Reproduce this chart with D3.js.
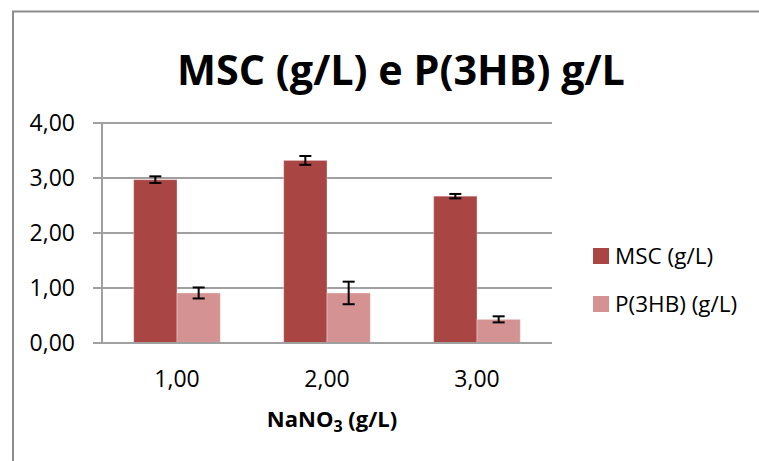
<!DOCTYPE html>
<html><head><meta charset="utf-8">
<script src="https://cdn.jsdelivr.net/npm/d3@7/dist/d3.min.js"></script>
<style>body{margin:0;background:#fff;} svg{display:block;}</style>
</head><body>
<svg id="c" width="759" height="461"></svg>
<script>
const categories = ["1,00", "2,00", "3,00"];
const seriesNames = ["MSC (g/L)", "P(3HB) (g/L)"];
const mscValues = [2.97, 3.32, 2.67];
const mscErrors = [0.06, 0.08, 0.04];
const p3hbValues = [0.91, 0.91, 0.43];
const p3hbErrors = [0.10, 0.205, 0.055];
const yTicks = [0, 1, 2, 3, 4];
const colors = ["#A94644", "#D49392"];

const svg = d3.select("#c");
const font = "'Open Sans', sans-serif";
const m = {left: 102, right: 552, top: 123, bottom: 343};

// frame
svg.append("path").attr("d", "M13,461 L13,11.5 L759,11.5")
  .attr("fill", "none").attr("stroke", "#8c8c8c").attr("stroke-width", 2);

const x0 = d3.scaleBand().domain(categories).range([m.left, m.right]).padding(0);
const x1 = d3.scaleBand().domain(seriesNames).range([0, x0.bandwidth()]).paddingInner(0).paddingOuter(0.731);
const y = d3.scaleLinear().domain([0, 4]).range([m.bottom, m.top]);

// gridlines
svg.append("g").selectAll("line").data(yTicks).join("line")
  .attr("x1", m.left - 9).attr("x2", m.right)
  .attr("y1", d => y(d)).attr("y2", d => y(d))
  .attr("stroke", "#a0a0a0").attr("stroke-width", 2);

// y axis line
svg.append("line").attr("x1", m.left).attr("x2", m.left)
  .attr("y1", y(4)).attr("y2", y(0)).attr("stroke", "#a0a0a0").attr("stroke-width", 2);

// y labels
svg.append("g").selectAll("text").data(yTicks).join("text")
  .attr("x", 75).attr("y", d => y(d)).attr("dy", "0.36em")
  .attr("text-anchor", "end").attr("font-family", font).attr("font-size", 23)
  .attr("fill", "#000").text(d => d.toFixed(2).replace(".", ","));

// bars
const data = categories.map((c, i) => [
  {cat: c, s: seriesNames[0], v: mscValues[i], e: mscErrors[i], col: colors[0]},
  {cat: c, s: seriesNames[1], v: p3hbValues[i], e: p3hbErrors[i], col: colors[1]}
]).flat();

svg.append("g").selectAll("rect").data(data).join("rect")
  .attr("x", d => x0(d.cat) + x1(d.s)).attr("width", x1.bandwidth())
  .attr("y", d => y(d.v)).attr("height", d => y(0) - y(d.v))
  .attr("fill", d => d.col).attr("stroke", "rgba(255,255,255,0.35)").attr("stroke-width", 1);

// x axis line over bars
svg.append("line").attr("x1", m.left - 9).attr("x2", m.right)
  .attr("y1", y(0)).attr("y2", y(0)).attr("stroke", "#a0a0a0").attr("stroke-width", 2);

// error bars
const eb = svg.append("g").attr("stroke", "#000").attr("stroke-width", 2);
data.forEach(d => {
  const cx = x0(d.cat) + x1(d.s) + x1.bandwidth() / 2;
  eb.append("line").attr("x1", cx).attr("x2", cx).attr("y1", y(d.v + d.e)).attr("y2", y(d.v - d.e));
  eb.append("line").attr("x1", cx - 6).attr("x2", cx + 6).attr("y1", y(d.v + d.e)).attr("y2", y(d.v + d.e));
  eb.append("line").attr("x1", cx - 6).attr("x2", cx + 6).attr("y1", y(d.v - d.e)).attr("y2", y(d.v - d.e));
});

// x labels
svg.append("g").selectAll("text").data(categories).join("text")
  .attr("x", d => x0(d) + x0.bandwidth() / 2).attr("y", 387)
  .attr("text-anchor", "middle").attr("font-family", font).attr("font-size", 23)
  .attr("fill", "#000").text(d => d);

// x axis title
const xt = svg.append("text").attr("x", 332).attr("y", 427).attr("text-anchor", "middle")
  .attr("font-family", font).attr("font-size", 22).attr("font-weight", "bold").attr("fill", "#000");
xt.append("tspan").text("NaNO");
xt.append("tspan").attr("font-size", 16).attr("dy", 5).text("3");
xt.append("tspan").attr("dy", -5).text(" (g/L)");

// title
const title = svg.append("text").attr("x", 401).attr("y", 85).attr("text-anchor", "middle")
  .attr("font-family", font).attr("font-size", 46).attr("font-weight", "bold").attr("fill", "#000")
  .text("MSC (g/L) e P(3HB) g/L");
const tw = title.node().getComputedTextLength();
title.attr("font-size", 46 * 448 / tw);

// legend
const lg = svg.append("g");
seriesNames.forEach((s, i) => {
  const cy = 256 + i * 48;
  lg.append("rect").attr("x", 593).attr("y", cy - 8).attr("width", 16).attr("height", 16).attr("fill", colors[i]);
  lg.append("text").attr("x", 615).attr("y", cy).attr("dy", "0.36em")
    .attr("font-family", font).attr("font-size", 22.5).attr("fill", "#000").text(s);
});
</script>
</body></html>
